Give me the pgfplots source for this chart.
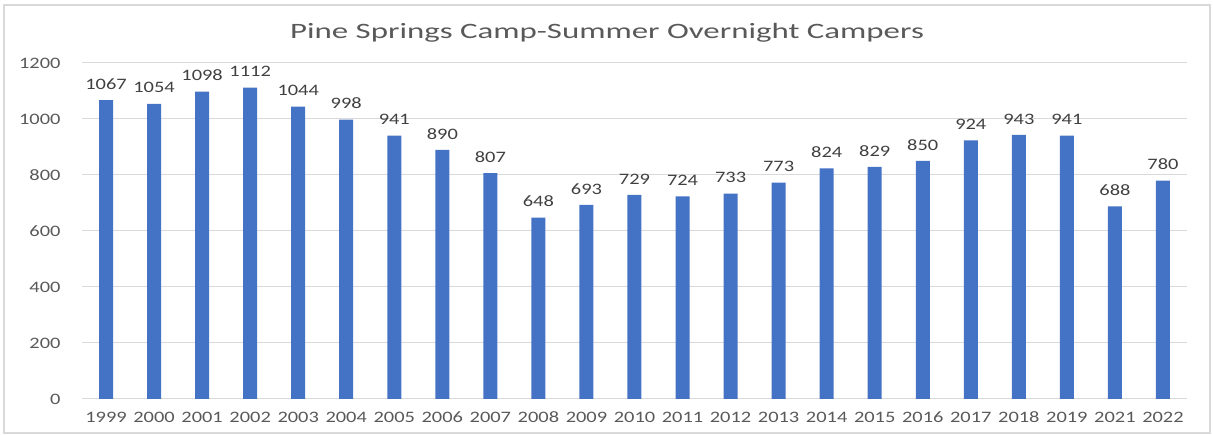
\documentclass[border=0pt]{standalone}
\usepackage{fontspec}
\setmainfont{Carlito}[FakeStretch=1.28]
\newfontfamily\titlefont{Carlito}[FakeStretch=1.5]
\usepackage{pgfplots}
\pgfplotsset{compat=1.18}
\definecolor{barblue}{HTML}{4472C4}
\definecolor{gridgray}{HTML}{D9D9D9}
\definecolor{ticklab}{HTML}{595959}
\definecolor{datalab}{HTML}{404040}
\begin{document}
\begin{tikzpicture}[x=1bp,y=1bp]
\path[use as bounding box] (0,0) rectangle (1213,435);
\draw[color=gridgray, line width=1.2bp] (4,2) rectangle (1210,430);
\node[color=ticklab, font=\titlefont\fontsize{22}{24}\selectfont] at (607,402) {Pine Springs Camp-Summer Overnight Campers};
\begin{axis}[
  at={(82bp,36bp)}, anchor=south west,
  scale only axis, width=1105bp, height=336bp,
  xmin=-0.5, xmax=22.5, ymin=0, ymax=1200,
  axis line style={draw=none},
  major tick length=0pt,
  ymajorgrids, grid style={color=gridgray, line width=1bp},
  ytick={0,200,...,1200},
  xtick={0,...,22},
  xticklabels={1999,2000,2001,2002,2003,2004,2005,2006,2007,2008,2009,2010,2011,2012,2013,2014,2015,2016,2017,2018,2019,2021,2022},
  /pgf/number format/assume math mode=true,
  /pgf/number format/1000 sep={},
  tick label style={color=ticklab, font=\fontsize{16}{16}\selectfont},
  xticklabel style={anchor=center, yshift=-18bp},
  yticklabel style={anchor=east, xshift=-18bp},
  ybar, bar width=14bp,
  nodes near coords,
  every node near coord/.append style={color=datalab, font=\fontsize{16}{16}\selectfont, anchor=center, yshift=16bp},
]
\addplot[draw=none, fill=barblue] table[x=i, y=v] {
i v
0 1067
1 1054
2 1098
3 1112
4 1044
5 998
6 941
7 890
8 807
9 648
10 693
11 729
12 724
13 733
14 773
15 824
16 829
17 850
18 924
19 943
20 941
21 688
22 780
};
\end{axis}
\end{tikzpicture}
\end{document}
